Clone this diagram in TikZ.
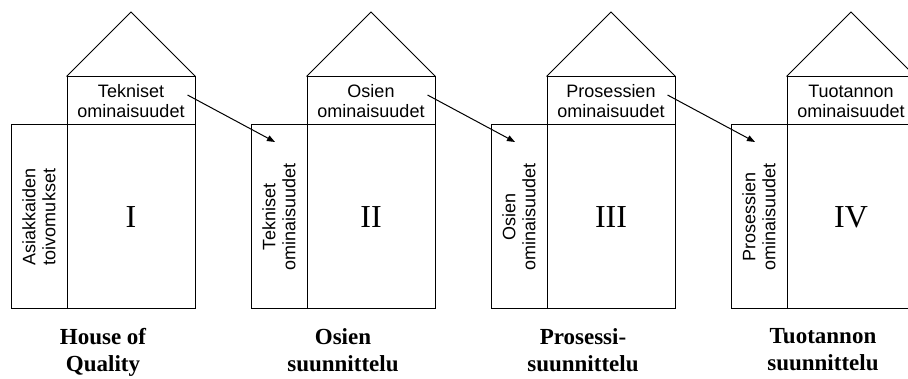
\documentclass[tikz,border=0pt]{standalone}
\usepackage{fontspec}
\setmainfont{Liberation Serif}
\setsansfont{Liberation Sans}
\usetikzlibrary{arrows.meta,calc}
\tikzset{
  wall/.style    ={draw=black,line width=1pt,inner sep=0pt},
  bodybox/.style ={wall,minimum width=128pt,minimum height=184pt,
                   font=\fontsize{32}{36}\selectfont},
  bandbox/.style ={wall,minimum width=128pt,minimum height=48pt,align=center,
                   font=\sffamily\fontsize{18}{20}\selectfont},
  sidebox/.style ={wall,rotate=90,minimum width=184pt,minimum height=56pt,
                   align=center,font=\sffamily\fontsize{18}{20}\selectfont},
  roof/.style    ={black,line width=1pt,line join=miter},
  caplbl/.style  ={anchor=north,inner sep=0pt,align=center,
                   font=\bfseries\fontsize{23}{27.6}\selectfont},
  flow/.style    ={-{Triangle[length=8pt,width=6pt]},black,line width=1pt},
}
\begin{document}
\begin{tikzpicture}[x=1pt,y=-1pt]
\useasboundingbox (0,0) rectangle (908,379);
\clip (0,0) rectangle (908,379);
%% the four houses, one every 240pt
\foreach \i/\num/\side/\top/\cap in {
  1/I/{Asiakkaiden\\toivomukset}/{Tekniset\\ominaisuudet}/{House of\\Quality},
  2/II/{Tekniset\\ominaisuudet}/{Osien\\ominaisuudet}/{Osien\\suunnittelu},
  3/III/{Osien\\ominaisuudet}/{Prosessien\\ominaisuudet}/{Prosessi-\\suunnittelu},
  4/IV/{Prosessien\\ominaisuudet}/{Tuotannon\\ominaisuudet}/{Tuotannon\\suunnittelu}}
{
  \pgfmathsetmacro{\dx}{(\i-1)*240}
  \node[bodybox] (body\i) at (131+\dx,217) {\num};
  \node[bandbox] (band\i) at (131+\dx,101) {\top};
  \node[sidebox] (side\i) at (39+\dx,217) {\side};
  \coordinate (apex\i) at (131+\dx,12);
  \draw[roof] (band\i.north west) -- (apex\i) -- (band\i.north east);
  % caption sits under the whole house, side column included
  \node[caplbl] (cap\i) at (103+\dx,328) {\cap};
}
%% top band of one house feeds the side column of the next
\foreach \i/\j in {1/2,2/3,3/4}
  \draw[flow] ($(band\i.east)+(-8,-6)$) -- ($(side\j.center)+(-4,-75)$);
\end{tikzpicture}
\end{document}
